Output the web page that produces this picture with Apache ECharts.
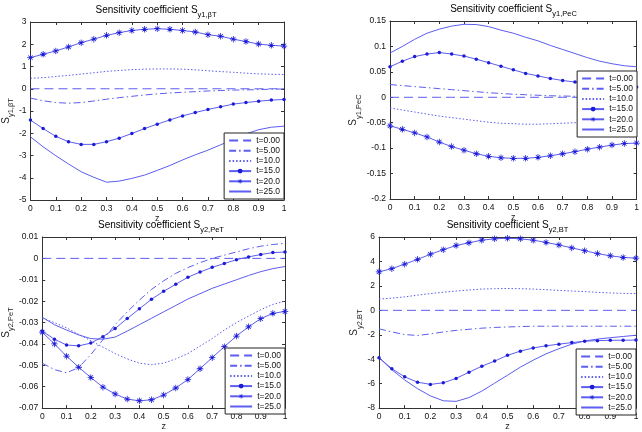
<!DOCTYPE html>
<html>
<head>
<meta charset="utf-8">
<script src="https://cdn.jsdelivr.net/npm/echarts@6/dist/echarts.min.js"></script>
<style>
  html, body { margin: 0; padding: 0; background: #fff; }
  #chart { width: 642px; height: 432px; }
</style>
</head>
<body>
<div id="chart"></div>
<script>
// z positions (grid points along the column)
var z = [0, 0.05, 0.1, 0.15, 0.2, 0.25, 0.3, 0.35, 0.4, 0.45, 0.5, 0.55, 0.6, 0.65, 0.7, 0.75, 0.8, 0.85, 0.9, 0.95, 1];
var xTicks = [0, 0.1, 0.2, 0.3, 0.4, 0.5, 0.6, 0.7, 0.8, 0.9, 1];
var seriesNames = ["t=0.00", "t=5.00", "t=10.0", "t=15.0", "t=20.0", "t=25.0"];

// panel 1: S y1,betaT
var a_t0 = [0, 0, 0, 0, 0, 0, 0, 0, 0, 0, 0, 0, 0, 0, 0, 0, 0, 0, 0, 0, 0];
var a_t5 = [-0.42, -0.54, -0.62, -0.65, -0.62, -0.55, -0.47, -0.40, -0.34, -0.28, -0.23, -0.19, -0.16, -0.13, -0.10, -0.08, -0.06, -0.05, -0.04, -0.02, -0.01];
var a_t10 = [0.47, 0.50, 0.55, 0.60, 0.66, 0.72, 0.78, 0.82, 0.86, 0.88, 0.89, 0.89, 0.88, 0.85, 0.81, 0.77, 0.74, 0.70, 0.67, 0.65, 0.64];
var a_t15 = [-1.41, -1.79, -2.14, -2.38, -2.50, -2.50, -2.38, -2.22, -2.01, -1.79, -1.59, -1.40, -1.22, -1.07, -0.93, -0.81, -0.69, -0.62, -0.56, -0.51, -0.48];
var a_t20 = [1.40, 1.55, 1.70, 1.88, 2.07, 2.23, 2.40, 2.52, 2.62, 2.67, 2.70, 2.67, 2.62, 2.55, 2.43, 2.36, 2.23, 2.12, 2.01, 1.95, 1.92];
var a_t25 = [-2.16, -2.61, -3.01, -3.38, -3.73, -3.98, -4.20, -4.15, -4.03, -3.88, -3.67, -3.45, -3.20, -2.97, -2.76, -2.52, -2.28, -2.03, -1.84, -1.73, -1.68];

// panel 2: S y1,PeC
var b_t0 = [0, 0, 0, 0, 0, 0, 0, 0, 0, 0, 0, 0, 0, 0, 0, 0, 0, 0, 0, 0, 0];
var b_t5 = [0.025, 0.023, 0.021, 0.019, 0.017, 0.015, 0.013, 0.011, 0.009, 0.0075, 0.006, 0.005, 0.004, 0.003, 0.0025, 0.002, 0.0015, 0.0012, 0.001, 0.001, 0.001];
var b_t10 = [-0.021, -0.025, -0.029, -0.033, -0.037, -0.040, -0.043, -0.046, -0.049, -0.051, -0.052, -0.053, -0.053, -0.052, -0.051, -0.050, -0.049, -0.048, -0.047, -0.047, -0.046];
var b_t15 = [0.060, 0.071, 0.080, 0.085, 0.088, 0.085, 0.081, 0.075, 0.068, 0.061, 0.054, 0.047, 0.042, 0.037, 0.033, 0.030, 0.026, 0.024, 0.022, 0.021, 0.020];
var b_t20 = [-0.056, -0.063, -0.070, -0.078, -0.088, -0.097, -0.104, -0.111, -0.116, -0.119, -0.120, -0.120, -0.118, -0.115, -0.111, -0.107, -0.102, -0.098, -0.094, -0.091, -0.090];
var b_t25 = [0.087, 0.100, 0.114, 0.126, 0.134, 0.140, 0.1435, 0.143, 0.139, 0.132, 0.126, 0.118, 0.111, 0.102, 0.094, 0.086, 0.078, 0.071, 0.066, 0.062, 0.060];

// panel 3: S y2,PeT
var c_t0 = [0, 0, 0, 0, 0, 0, 0, 0, 0, 0, 0, 0, 0, 0, 0, 0, 0, 0, 0, 0, 0];
var c_t5 = [-0.049, -0.052, -0.0535, -0.051, -0.045, -0.038, -0.031, -0.025, -0.0195, -0.0145, -0.0105, -0.007, -0.0043, -0.002, 0, 0.0015, 0.003, 0.0045, 0.0057, 0.0065, 0.007];
var c_t10 = [-0.028, -0.030, -0.0325, -0.0355, -0.0385, -0.0415, -0.0445, -0.047, -0.049, -0.0497, -0.049, -0.047, -0.0445, -0.041, -0.0375, -0.0335, -0.030, -0.027, -0.024, -0.0215, -0.020];
var c_t15 = [-0.034, -0.0378, -0.0405, -0.0409, -0.0396, -0.0366, -0.0328, -0.0281, -0.0236, -0.0191, -0.0154, -0.0121, -0.0088, -0.0064, -0.0042, -0.0024, -0.0006, 0.0007, 0.0018, 0.0027, 0.003];
var c_t20 = [-0.0345, -0.040, -0.0457, -0.0509, -0.0557, -0.0602, -0.0634, -0.0658, -0.0666, -0.0661, -0.0639, -0.0606, -0.0566, -0.0516, -0.0464, -0.0413, -0.0363, -0.032, -0.0282, -0.0257, -0.0248];
var c_t25 = [-0.0275, -0.031, -0.0335, -0.0358, -0.0375, -0.0378, -0.0368, -0.034, -0.031, -0.028, -0.025, -0.022, -0.019, -0.0165, -0.014, -0.012, -0.010, -0.008, -0.0062, -0.0048, -0.0038];

// panel 4: S y2,BT
var d_t0 = [0, 0, 0, 0, 0, 0, 0, 0, 0, 0, 0, 0, 0, 0, 0, 0, 0, 0, 0, 0, 0];
var d_t5 = [-1.51, -1.77, -1.98, -2.06, -1.93, -1.77, -1.64, -1.55, -1.46, -1.40, -1.36, -1.33, -1.30, -1.30, -1.30, -1.30, -1.30, -1.30, -1.30, -1.30, -1.30];
var d_t10 = [0.92, 1.00, 1.10, 1.24, 1.37, 1.48, 1.58, 1.66, 1.74, 1.77, 1.79, 1.77, 1.74, 1.69, 1.63, 1.58, 1.53, 1.47, 1.42, 1.39, 1.37];
var d_t15 = [-3.87, -4.78, -5.44, -5.88, -6.06, -5.93, -5.57, -5.07, -4.57, -4.15, -3.68, -3.34, -3.08, -2.90, -2.77, -2.64, -2.53, -2.48, -2.45, -2.45, -2.43];
var d_t20 = [3.15, 3.41, 3.78, 4.17, 4.59, 4.96, 5.30, 5.53, 5.74, 5.85, 5.90, 5.85, 5.74, 5.56, 5.35, 5.11, 4.88, 4.64, 4.46, 4.33, 4.27];
var d_t25 = [-3.87, -4.86, -5.70, -6.41, -7.00, -7.40, -7.45, -7.14, -6.61, -5.96, -5.31, -4.65, -4.08, -3.56, -3.14, -2.77, -2.51, -2.35, -2.24, -2.14, -2.04];

var yTicksA = [-5, -4, -3, -2, -1, 0, 1, 2, 3];
var yTicksB = [-0.2, -0.15, -0.1, -0.05, 0, 0.05, 0.1, 0.15];
var yTicksC = [-0.07, -0.06, -0.05, -0.04, -0.03, -0.02, -0.01, 0, 0.01];
var yTicksD = [-8, -6, -4, -2, 0, 2, 4, 6];

var panels = [
  { sub: "y1,βT", ticks: yTicksA, step: 1, lines: [a_t0, a_t5, a_t10, a_t15, a_t20, a_t25],
    grid: { left: 28, top: 22, width: 256, height: 178 }, nameGap: 12, legend: { right: 358, top: 133 } },
  { sub: "y1,PeC", ticks: yTicksB, step: 0.05, lines: [b_t0, b_t5, b_t10, b_t15, b_t20, b_t25],
    grid: { left: 390, top: 21, width: 247, height: 178 }, nameGap: 23, legend: { right: 5, top: 71 } },
  { sub: "y2,PeT", ticks: yTicksC, step: 0.01, lines: [c_t0, c_t5, c_t10, c_t15, c_t20, c_t25],
    grid: { left: 37, top: 237, width: 248, height: 178 }, nameGap: 24, legend: { right: 357, top: 348 } },
  { sub: "y2,BT", ticks: yTicksD, step: 2, lines: [d_t0, d_t5, d_t10, d_t15, d_t20, d_t25],
    grid: { left: 379, top: 237, width: 257, height: 178 }, nameGap: 16, legend: { right: 6, top: 349 } }
];

var FONT = "Liberation Sans";
var lineColor = "#5d5df0";
var markColor = "#1c1cd6";
var asterisk = "path://M4.4,0H5.6V10H4.4Z M0,4.4H10V5.6H0Z M1.2,2.0L2.0,1.2L8.8,8.0L8.0,8.8Z M8.0,1.2L8.8,2.0L2.0,8.8L1.2,8.0Z";

var looks = [
  { dash: [9, 5], symbol: "none" },
  { dash: [7, 3, 1.5, 3], symbol: "none" },
  { dash: [1.5, 2], symbol: "none" },
  { dash: "solid", symbol: "circle", size: 3.5 },
  { dash: "solid", symbol: asterisk, size: 6.5 },
  { dash: "solid", symbol: "none" }
];

var richSub = {
  b: { fontSize: 10, fontFamily: FONT, color: "#222", lineHeight: 12, verticalAlign: "top" },
  s: { fontSize: 7.5, fontFamily: FONT, color: "#222", lineHeight: 8, verticalAlign: "top", padding: [6, 0, 0, 0] }
};

var grids = [], xAxes = [], yAxes = [], series = [], legends = [], graphics = [];

panels.forEach(function (p, i) {
  grids.push(p.grid);
  var ymin = p.ticks[0], ymax = p.ticks[p.ticks.length - 1];
  var boxLine = { show: true, onZero: false, lineStyle: { color: "#333", width: 1 } };
  var tick = { show: true, inside: true, length: 3, lineStyle: { color: "#333" } };
  var lbl = { fontSize: 8.5, fontFamily: FONT, color: "#111", margin: 4 };

  xAxes.push({ gridIndex: i, type: "value", min: xTicks[0], max: xTicks[xTicks.length - 1], interval: 0.1,
    position: "bottom", axisLine: boxLine, axisTick: tick, axisLabel: lbl, splitLine: { show: false },
    name: "z", nameLocation: "middle", nameGap: 11, nameTextStyle: { fontSize: 9, fontFamily: FONT, color: "#222" } });
  xAxes.push({ gridIndex: i, type: "value", min: xTicks[0], max: xTicks[xTicks.length - 1], interval: 0.1,
    position: "top", axisLine: boxLine, axisTick: tick, axisLabel: { show: false }, splitLine: { show: false } });

  yAxes.push({ gridIndex: i, type: "value", min: ymin, max: ymax, interval: p.step, position: "left",
    axisLine: boxLine, axisTick: tick, axisLabel: lbl, splitLine: { show: false },
    name: "{b|S}{s|" + p.sub + "}", nameLocation: "middle", nameRotate: 90, nameGap: p.nameGap,
    nameTextStyle: { rich: richSub } });
  yAxes.push({ gridIndex: i, type: "value", min: ymin, max: ymax, interval: p.step, position: "right",
    axisLine: boxLine, axisTick: tick, axisLabel: { show: false }, splitLine: { show: false } });

  p.lines.forEach(function (vals, k) {
    var lk = looks[k];
    series.push({
      name: seriesNames[k], type: "line", xAxisIndex: 2 * i, yAxisIndex: 2 * i,
      data: z.map(function (zz, j) { return [zz, vals[j]]; }),
      symbol: lk.symbol, symbolSize: lk.size || 0, showSymbol: lk.symbol !== "none",
      smooth: false, animation: false,
      lineStyle: { color: lineColor, width: 1, type: lk.dash },
      itemStyle: { color: markColor },
      emphasis: { disabled: true }
    });
  });

  legends.push({
    orient: "vertical", right: p.legend.right, top: p.legend.top,
    padding: [3, 4, 3, 4], itemGap: 1.2, itemWidth: 22, itemHeight: 6,
    backgroundColor: "#fff", borderColor: "#222", borderWidth: 1, borderRadius: 0,
    selectedMode: false,
    textStyle: { fontSize: 8.5, fontFamily: FONT, color: "#111" },
    data: seriesNames.map(function (n, k) {
      return looks[k].symbol === "none" ? { name: n, itemStyle: { opacity: 0 } } : { name: n };
    })
  });

  graphics.push({
    type: "text", x: p.grid.left + p.grid.width / 2, y: p.grid.top - 17,
    style: { text: "{b|Sensitivity coefficient S}{s|" + p.sub + "}", rich: richSub, align: "center" }
  });
});

var chart = echarts.init(document.getElementById("chart"), null, { renderer: "canvas" });
chart.setOption({
  backgroundColor: "#fff",
  animation: false,
  grid: grids,
  xAxis: xAxes,
  yAxis: yAxes,
  legend: legends,
  series: series,
  graphic: graphics
});
</script>
</body>
</html>
